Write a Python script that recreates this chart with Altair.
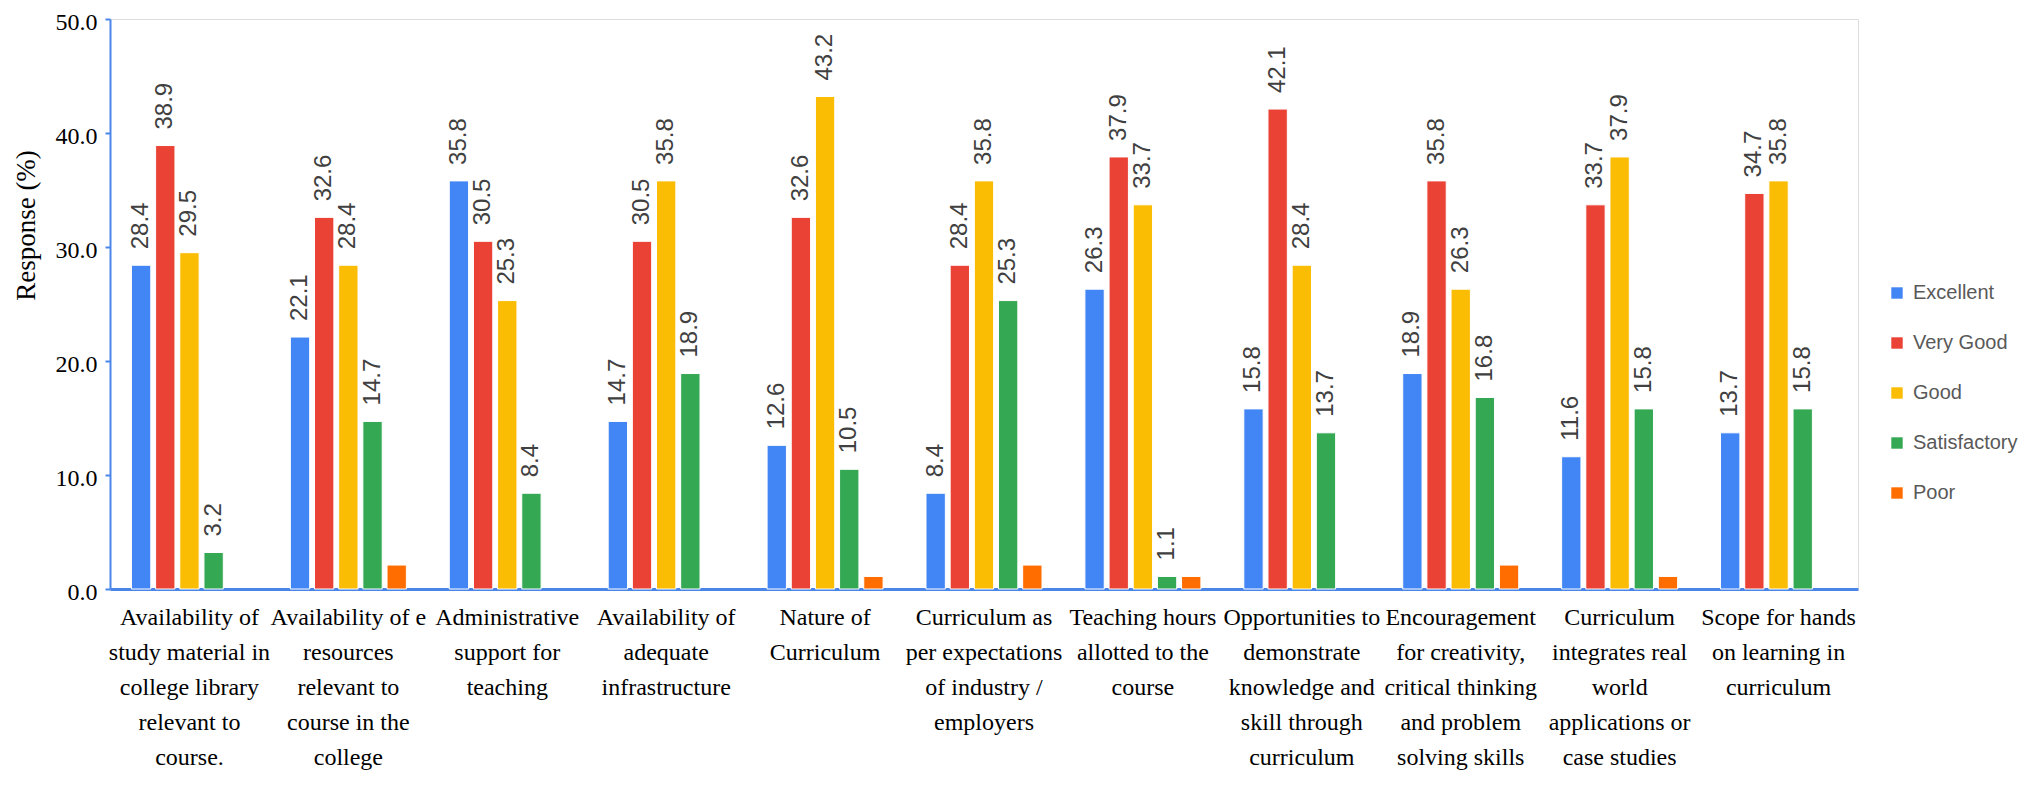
import altair as alt
import pandas as pd

CATEGORY_LINES = [
    ["Availability of", "study material in", "college library", "relevant to", "course."],
    ["Availability of e", "resources", "relevant to", "course in the", "college"],
    ["Administrative", "support for", "teaching"],
    ["Availability of", "adequate", "infrastructure"],
    ["Nature of", "Curriculum"],
    ["Curriculum as", "per expectations", "of industry /", "employers"],
    ["Teaching hours", "allotted to the", "course"],
    ["Opportunities to", "demonstrate", "knowledge and", "skill through", "curriculum"],
    ["Encouragement", "for creativity,", "critical thinking", "and problem", "solving skills"],
    ["Curriculum", "integrates real", "world", "applications or", "case studies"],
    ["Scope for hands", "on learning in", "curriculum"],
]
SERIES = ["Excellent", "Very Good", "Good", "Satisfactory", "Poor"]
COLORS = ["#4285F4", "#EA4335", "#FBBC04", "#34A853", "#FF6D01"]

excellent = [28.4, 22.1, 35.8, 14.7, 12.6, 8.4, 26.3, 15.8, 18.9, 11.6, 13.7]
very_good = [38.9, 32.6, 30.5, 30.5, 32.6, 28.4, 37.9, 42.1, 35.8, 33.7, 34.7]
good = [29.5, 28.4, 25.3, 35.8, 43.2, 35.8, 33.7, 28.4, 26.3, 37.9, 35.8]
satisfactory = [3.2, 14.7, 8.4, 18.9, 10.5, 25.3, 1.1, 13.7, 16.8, 15.8, 15.8]
poor = [0.0, 2.1, 0.0, 0.0, 1.1, 2.1, 1.1, 0.0, 2.1, 1.1, 0.0]

categories = ["|".join(l) for l in CATEGORY_LINES]
values = [excellent, very_good, good, satisfactory, poor]

rows = []
for s, vals in zip(SERIES, values):
    for c, v in zip(categories, vals):
        rows.append({"category": c, "series": s, "value": v})
df = pd.DataFrame(rows)

AXIS_BLUE = "#4A86E8"

x = alt.X("category:N", sort=categories, title=None,
          scale=alt.Scale(paddingInner=0.27, paddingOuter=0.135),
          axis=alt.Axis(labelAngle=0, labelExpr="split(datum.label, '|')",
                        labelFont="Liberation Serif", labelFontSize=24,
                        labelLineHeight=35, labelColor="#000000",
                        labelLimit=300, labelPadding=16, labelBaseline="top",
                        ticks=False, domainColor=AXIS_BLUE, domainWidth=3))
xoff = alt.XOffset("series:N", sort=SERIES, scale=alt.Scale(domain=SERIES, paddingInner=0.2))
y = alt.Y("value:Q", scale=alt.Scale(domain=[0, 50]),
          axis=alt.Axis(values=[0, 10, 20, 30, 40, 50], format=".1f",
                        title="Response (%)", titleFont="Liberation Serif",
                        titleFontSize=27, titleFontWeight="normal", titleColor="#000000",
                        titleAngle=270, titleX=-84, titleY=206, titleAlign="center",
                        titleBaseline="middle",
                        labelFont="Liberation Serif", labelFontSize=24, labelColor="#000000",
                        labelBaseline="alphabetic", labelOffset=10,
                        labelPadding=8, grid=False, domainColor=AXIS_BLUE, domainWidth=2,
                        tickColor=AXIS_BLUE, tickSize=5, tickWidth=2))
color = alt.Color("series:N", sort=SERIES,
                  scale=alt.Scale(domain=SERIES, range=COLORS),
                  legend=alt.Legend(title=None, orient="none", legendX=1777, legendY=264,
                                    symbolType="square", symbolSize=130, symbolStrokeWidth=0,
                                    labelFont="Liberation Sans", labelFontSize=20,
                                    labelColor="#595959", rowPadding=30, padding=0,
                                    labelOffset=6))

bars = alt.Chart(df).transform_filter("datum.value > 0").mark_bar(
    stroke="white", strokeWidth=1).encode(x=x, xOffset=xoff, y=y, color=color)

labels = alt.Chart(df).transform_filter(
    "datum.series != 'Poor' && datum.value > 0"
).mark_text(angle=270, align="left", baseline="middle", dx=16,
            font="Liberation Sans", fontSize=24, color="#404040").encode(
    x=alt.X("category:N", sort=categories),
    xOffset=alt.XOffset("series:N", sort=SERIES, scale=alt.Scale(domain=SERIES, paddingInner=0.2)),
    y="value:Q",
    text=alt.Text("value:Q", format=".1f"))

chart = alt.layer(bars, labels).properties(
    width=1748, height=570,
    autosize=alt.AutoSizeParams(type="none"),
    padding={"left": 102, "top": 11, "right": 170, "bottom": 196},
).configure_view(stroke=None).configure(background="white")

chart.save("out.html", embed_options={"renderer": "svg", "actions": False})
